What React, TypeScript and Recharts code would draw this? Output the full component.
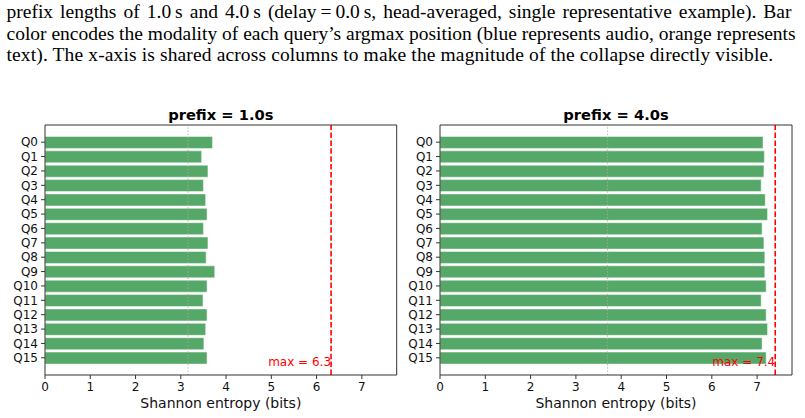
import { BarChart, Bar, XAxis, YAxis, ReferenceLine, Label } from "recharts";

// Shannon entropy of each query head's attention, per prefix length
const queries = [
  "Q0", "Q1", "Q2", "Q3", "Q4", "Q5", "Q6", "Q7",
  "Q8", "Q9", "Q10", "Q11", "Q12", "Q13", "Q14", "Q15",
];
const entropy1s = [
  3.7, 3.46, 3.6, 3.5, 3.55, 3.58, 3.5, 3.6,
  3.56, 3.75, 3.58, 3.49, 3.58, 3.55, 3.51, 3.58,
];
const entropy4s = [
  7.13, 7.16, 7.15, 7.09, 7.18, 7.23, 7.11, 7.15,
  7.17, 7.17, 7.2, 7.09, 7.2, 7.23, 7.11, 7.2,
];
const prefixTitles = ["prefix = 1.0s", "prefix = 4.0s"];
const maxEntropy = [6.32, 7.4];
const xTicks = [0, 1, 2, 3, 4, 5, 6, 7];
const xMax = 7.77;

const captionLines = [
  "prefix lengths of 1.0\u2009s and 4.0\u2009s (delay\u2009=\u20090.0\u2009s, head-averaged, single representative example). Bar",
  "color encodes the modality of each query\u2019s argmax position (blue represents audio, orange represents",
  "text). The x-axis is shared across columns to make the magnitude of the collapse directly visible.",
];

const FONT = "DejaVu Sans";
const GREEN = "#55a868";
const SPINE = "#333";
const TICK_STYLE = { fill: "#111", fontSize: 12, fontFamily: FONT };

function MaxLabel(props: any) {
  const { viewBox, value } = props;
  return (
    <text
      x={viewBox.x}
      y={viewBox.y + viewBox.height - 9}
      textAnchor="end"
      fill="#ff0000"
      fontSize={12}
      fontFamily={FONT}
    >
      {value}
    </text>
  );
}

function Panel({ values, title, maxVal, width, rightMargin }: { values: number[]; title: string; maxVal: number; width: number; rightMargin: number }) {
  const data = queries.map((q, i) => ({ q, h: values[i] }));
  return (
    <BarChart
      width={width}
      height={418}
      data={data}
      layout="vertical"
      margin={{ top: 124, right: rightMargin, bottom: 0, left: 0 }}
    >
      <XAxis
        type="number"
        domain={[0, xMax]}
        ticks={xTicks}
        allowDataOverflow
        height={43}
        stroke={SPINE}
        tickSize={4}
        tickMargin={3}
        fontSize={12}
        fontFamily={FONT}
        tick={TICK_STYLE}
      >
        <Label
          value="Shannon entropy (bits)"
          position="insideBottom"
          offset={10}
          fill="#111"
          fontSize={14}
          fontFamily={FONT}
        />
      </XAxis>
      <XAxis
        xAxisId="top"
        orientation="top"
        type="number"
        domain={[0, xMax]}
        ticks={[]}
        height={1}
        tick={false}
        tickLine={false}
        stroke={SPINE}
      >
        <Label
          value={title}
          position="top"
          offset={4}
          fill="#000"
          fontSize={14.7}
          fontWeight="bold"
          fontFamily={FONT}
        />
      </XAxis>
      <YAxis
        type="category"
        dataKey="q"
        width={45}
        padding={{ top: 10, bottom: 10 }}
        stroke={SPINE}
        tickSize={4}
        tickMargin={3}
        interval={0}
        fontSize={12}
        fontFamily={FONT}
        tick={TICK_STYLE}
      />
      <YAxis
        yAxisId="right"
        orientation="right"
        type="category"
        dataKey="q"
        width={1}
        tick={false}
        tickLine={false}
        stroke={SPINE}
      />
      <ReferenceLine x={maxVal / 2} stroke="#aaaaaa" strokeWidth={1} strokeDasharray="1.2 2" />
      <Bar
        dataKey="h"
        fill={GREEN}
        stroke="#ffffff"
        strokeOpacity={0.6}
        strokeWidth={0.8}
        isAnimationActive={false}
      />
      <ReferenceLine
        x={maxVal}
        stroke="#ff0000"
        strokeWidth={1.6}
        strokeDasharray="5.5 2.4"
        label={<MaxLabel value={`max = ${maxVal.toFixed(1)}`} />}
      />
    </BarChart>
  );
}

export default function App() {
  const last = captionLines.length - 1;
  return (
    <div
      style={{
        position: "absolute",
        left: 0,
        top: 0,
        width: 805,
        height: 418,
        overflow: "hidden",
        background: "#fff",
      }}
    >
      <div
        style={{
          position: "absolute",
          left: 6.5,
          top: 0.9,
          width: 785,
          fontFamily: "Liberation Serif",
          fontSize: 19.5,
          lineHeight: "21.7px",
          color: "#000",
        }}
      >
        {captionLines.map((line, i) => (
          <div
            key={i}
            style={{
              whiteSpace: "nowrap",
              textAlign: i < last ? "justify" : "left",
              textAlignLast: i < last ? "justify" : "left",
              letterSpacing: i < last ? 0 : 0.13,
            }}
          >
            {line}
          </div>
        ))}
      </div>
      <div style={{ position: "absolute", left: 0, top: 0 }}>
        <Panel values={entropy1s} title={prefixTitles[0]} maxVal={maxEntropy[0]} width={400} rightMargin={2.3} />
      </div>
      <div style={{ position: "absolute", left: 395, top: 0 }}>
        <Panel values={entropy4s} title={prefixTitles[1]} maxVal={maxEntropy[1]} width={410} rightMargin={12} />
      </div>
    </div>
  );
}
